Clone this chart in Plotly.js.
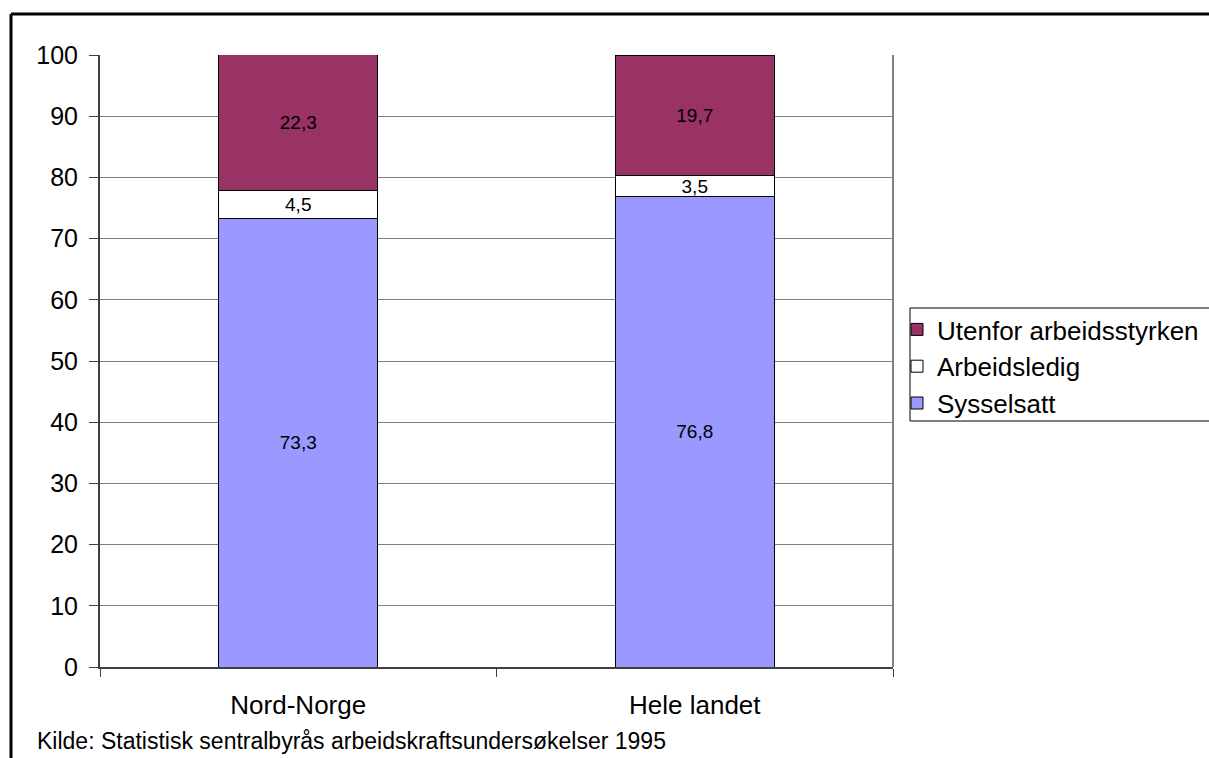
<!DOCTYPE html>
<html>
<head>
<meta charset="utf-8">
<script src="https://cdn.plot.ly/plotly-3.0.1.min.js"></script>
<style>
  html, body { margin: 0; padding: 0; background: #ffffff; }
  #chart { width: 1209px; height: 758px; }
</style>
</head>
<body>
<div id="chart"></div>
<script>
// Labour force status, percent of population
const regions = ['Nord-Norge', 'Hele landet'];
const sysselsatt = [73.3, 76.8];
const arbeidsledig = [4.5, 3.5];
const utenfor = [22.3, 19.7];
const yTicks = [0, 10, 20, 30, 40, 50, 60, 70, 80, 90, 100];
const sourceNote = 'Kilde: Statistisk sentralbyrås arbeidskraftsundersøkelser 1995';

const W = 1209, H = 758;
const M = { l: 100, r: 316, t: 55, b: 91, autoexpand: false };
const pw = W - M.l - M.r, ph = H - M.t - M.b;
const px = x => (x - M.l) / pw;
const py = y => (H - M.b - y) / ph;

const FONT = 'Liberation Sans, Arial, sans-serif';
const fmt = v => v.toFixed(1).replace('.', ',');

function barTrace(name, values, color) {
  return {
    type: 'bar',
    name: name,
    x: regions,
    y: values,
    text: values.map(fmt),
    textposition: 'inside',
    insidetextanchor: 'middle',
    constraintext: 'none',
    textfont: { family: FONT, size: 19, color: '#000000' },
    marker: { color: color, line: { color: '#000000', width: 1 } },
    hoverinfo: 'skip'
  };
}

const data = [
  barTrace('Sysselsatt', sysselsatt, '#9999ff'),
  barTrace('Arbeidsledig', arbeidsledig, '#ffffff'),
  barTrace('Utenfor arbeidsstyrken', utenfor, '#993366')
];

const layout = {
  width: W,
  height: H,
  margin: M,
  paper_bgcolor: '#ffffff',
  plot_bgcolor: '#ffffff',
  barmode: 'stack',
  bargap: 0.6,
  showlegend: true,
  font: { family: FONT, size: 25, color: '#000000' },
  xaxis: {
    type: 'category',
    showgrid: false,
    showline: true,
    linecolor: '#404040',
    linewidth: 2,
    ticks: 'outside',
    tickson: 'boundaries',
    ticklen: 8,
    tickcolor: '#404040',
    tickfont: { family: FONT, size: 26, color: '#000000' },
    ticklabelstandoff: 14,
    zeroline: false
  },
  yaxis: {
    range: [0, 100],
    tickvals: yTicks,
    showgrid: true,
    gridcolor: '#808080',
    gridwidth: 1,
    showline: true,
    linecolor: '#404040',
    linewidth: 2,
    ticks: 'outside',
    ticklen: 9,
    tickcolor: '#404040',
    tickfont: { family: FONT, size: 25, color: '#000000' },
    ticklabelstandoff: 6,
    zeroline: false
  },
  legend: {
    x: px(897),
    y: py(306),
    xanchor: 'left',
    yanchor: 'top',
    bgcolor: 'rgba(0,0,0,0)',
    borderwidth: 0,
    itemwidth: 30,
    font: { family: FONT, size: 26, color: '#000000' }
  },
  shapes: [
    // right edge of the plot area
    { type: 'line', xref: 'paper', yref: 'paper', x0: 1, x1: 1, y0: 0, y1: 1,
      line: { color: '#808080', width: 2 } },
    // legend frame
    { type: 'rect', xref: 'paper', yref: 'paper', x0: px(910), x1: px(W + 10), y0: py(421), y1: py(308),
      line: { color: '#000000', width: 1 }, fillcolor: 'rgba(0,0,0,0)' },
    // outer frame (top and left)
    { type: 'line', xref: 'paper', yref: 'paper', x0: px(11), x1: px(W + 5), y0: py(14), y1: py(14),
      line: { color: '#000000', width: 3 } },
    { type: 'line', xref: 'paper', yref: 'paper', x0: px(11), x1: px(11), y0: py(14), y1: py(H + 5),
      line: { color: '#000000', width: 3 } }
  ],
  annotations: [
    { xref: 'paper', yref: 'paper', x: px(35), y: py(741), xanchor: 'left', yanchor: 'middle',
      text: sourceNote, showarrow: false,
      font: { family: FONT, size: 23, color: '#000000' } }
  ]
};

Plotly.newPlot('chart', data, layout, { displayModeBar: false, staticPlot: true });
</script>
</body>
</html>
